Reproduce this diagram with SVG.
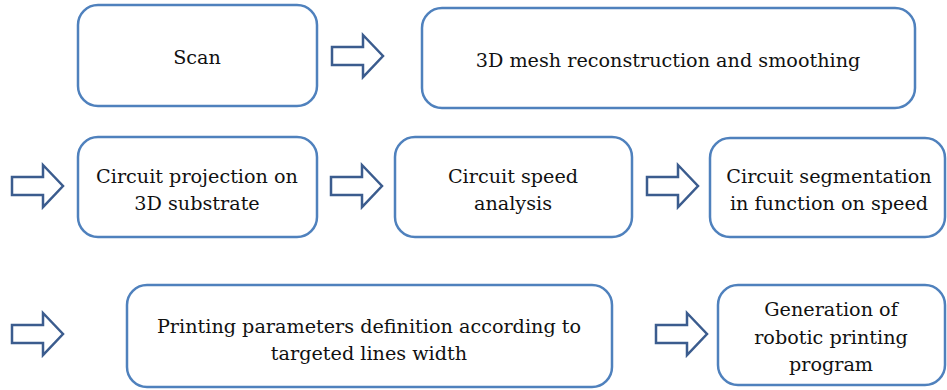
<svg xmlns="http://www.w3.org/2000/svg" width="947" height="390" viewBox="0 0 947 390">
<style>
.box{fill:#fff;stroke:#4f81bd;stroke-width:2.5}
.arr{fill:#fff;stroke:#3b5c8e;stroke-width:2.5;stroke-linejoin:miter}
text{font-family:"DejaVu Serif","Liberation Serif",serif;font-size:19.2px;fill:#111;text-anchor:middle}
</style>
<defs>
<path id="ar" d="M0,-9 L31,-9 L31,-21 L51,0 L31,21 L31,9 L0,9 Z"/>
</defs>
<rect width="947" height="390" fill="#fff"/>
<g id="connectors">
<use href="#ar" class="arr" x="332" y="56"/>
<use href="#ar" class="arr" x="12" y="186"/>
<use href="#ar" class="arr" x="331" y="186"/>
<use href="#ar" class="arr" x="647" y="186"/>
<use href="#ar" class="arr" x="12" y="334"/>
<use href="#ar" class="arr" x="656" y="334"/>
</g>
<g id="scan"><rect class="box" x="78" y="5" width="239" height="101" rx="20"/><text x="197" y="64">Scan</text></g>
<g id="mesh"><rect class="box" x="422" y="8" width="493" height="100" rx="20"/><text x="668" y="67">3D mesh reconstruction and smoothing</text></g>
<g id="projection"><rect class="box" x="78" y="137" width="239" height="100" rx="20"/><text x="197" y="183">Circuit projection on</text><text x="197" y="210">3D substrate</text></g>
<g id="speed"><rect class="box" x="395" y="137" width="237" height="100" rx="20"/><text x="513" y="183">Circuit speed</text><text x="513" y="210">analysis</text></g>
<g id="segmentation"><rect class="box" x="710" y="138" width="235" height="99" rx="20"/><text x="829" y="183">Circuit segmentation</text><text x="829" y="210">in function on speed</text></g>
<g id="printing"><rect class="box" x="127" y="285" width="485" height="102" rx="20"/><text x="369" y="333">Printing parameters definition according to</text><text x="369" y="360">targeted lines width</text></g>
<g id="generation"><rect class="box" x="718" y="285" width="227" height="100" rx="20"/><text x="831" y="316">Generation of</text><text x="831" y="344">robotic printing</text><text x="831" y="371">program</text></g>
</svg>
